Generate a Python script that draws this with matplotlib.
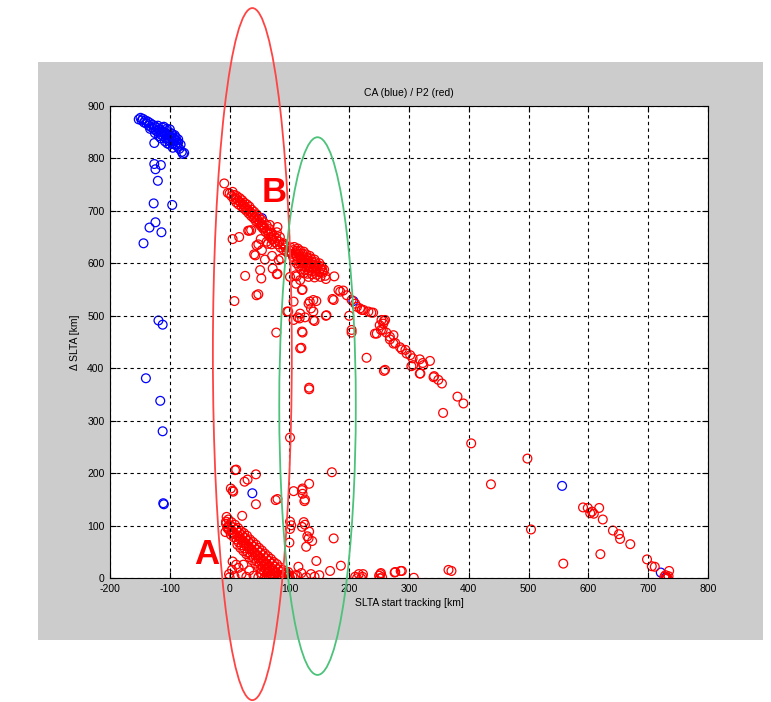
import numpy as np
import matplotlib.pyplot as plt
from matplotlib.patches import Ellipse, Rectangle

plt.rcParams['font.family'] = ['Liberation Sans', 'DejaVu Sans']
plt.rcParams['axes.unicode_minus'] = False

## CA (blue) points
ca_band = [
    (-152, 874), (-149, 877), (-147, 872), (-145, 875), (-143, 868), (-141, 872), (-139, 866),
    (-137, 870), (-135, 862), (-133, 867), (-131, 859), (-129, 864), (-127, 856), (-125, 861),
    (-123, 852), (-121, 858), (-119, 849), (-117, 855), (-115, 845), (-113, 852), (-111, 842),
    (-109, 849), (-107, 838), (-105, 846), (-103, 835), (-101, 843), (-99, 832), (-97, 840),
    (-95, 828), (-93, 837), (-91, 826), (-89, 834), (-87, 822), (-86, 830), (-84, 818),
    (-82, 826), (-80, 812), (-78, 808), (-76, 810), (-115, 838), (-108, 832), (-100, 826),
    (-125, 848), (-133, 856), (-95, 820), (-104, 828), (-118, 842), (-120, 862), (-112, 858),
    (-104, 852), (-96, 846), (-90, 840), (-86, 836), (-110, 860), (-105, 856), (-100, 855),
    (-98, 848), (-92, 844), (-88, 826), (-94, 832), (-102, 838), (-108, 845), (-114, 850),
]
ca_sparse = [
    (-126, 829), (-126, 789), (-124, 779), (-115, 787), (-120, 757), (-127, 714), (-96, 711),
    (-124, 678), (-134, 668), (-114, 659), (-144, 638), (-119, 491), (-112, 483), (-140, 381),
    (-116, 338), (-112, 280), (-110, 141), (-111, 143), (38, 162), (556, 176), (721, 11),
    (730, 2), (207, 528), (54, 686),
]

## P2 (red) points
p2_b_band = [
    (0, 733), (3, 728), (5, 736), (7, 722), (8, 730), (10, 724), (11, 716), (12, 728), (14, 720),
    (15, 712), (17, 724), (18, 716), (20, 708), (21, 720), (22, 712), (24, 704), (25, 715),
    (26, 707), (28, 700), (29, 712), (30, 703), (32, 695), (33, 708), (34, 698), (36, 690),
    (37, 702), (38, 694), (40, 686), (41, 698), (42, 688), (44, 680), (45, 693), (46, 684),
    (48, 676), (49, 688), (50, 678), (52, 671), (53, 683), (54, 674), (56, 666), (57, 678),
    (58, 668), (60, 660), (62, 672), (63, 662), (65, 655), (67, 665), (68, 650), (70, 658),
    (72, 645), (74, 652), (76, 640), (78, 648), (80, 636), (83, 641), (85, 630), (88, 636),
    (90, 626), (93, 630), (96, 622),
]
p2_b_cluster = [
    (102, 630), (108, 631), (114, 628), (100, 624), (106, 625), (112, 624), (118, 624), (124, 622),
    (104, 618), (110, 619), (116, 618), (122, 618), (128, 617), (134, 614), (106, 612), (112, 613),
    (118, 612), (124, 612), (130, 611), (136, 609), (142, 607), (108, 606), (114, 606), (120, 606),
    (126, 606), (132, 605), (138, 603), (144, 602), (150, 600), (112, 600), (118, 600), (124, 600),
    (130, 599), (136, 598), (142, 597), (148, 596), (154, 594), (116, 594), (122, 594), (128, 593),
    (134, 592), (140, 591), (146, 590), (152, 589), (158, 588), (120, 588), (126, 587), (132, 586),
    (138, 585), (144, 584), (150, 583), (156, 582), (124, 581), (130, 580), (138, 579), (146, 578),
    (112, 575), (132, 574), (142, 573), (152, 574), (160, 576),
]
p2_a_band = [
    (-6, 104), (-4, 96), (-7, 88), (-2, 112), (1, 101), (-1, 92), (2, 83), (3, 107), (6, 97),
    (4, 88), (7, 78), (9, 102), (11, 93), (8, 84), (12, 74), (13, 64), (14, 96), (16, 87),
    (17, 79), (15, 69), (18, 58), (19, 90), (21, 82), (22, 72), (20, 63), (23, 52), (24, 86),
    (26, 77), (27, 67), (25, 57), (28, 46), (29, 81), (31, 71), (32, 61), (30, 50), (33, 40),
    (34, 74), (36, 65), (37, 55), (35, 45), (38, 34), (39, 69), (41, 60), (42, 49), (40, 39),
    (43, 28), (44, 64), (46, 54), (47, 44), (45, 33), (48, 22), (49, 58), (51, 49), (52, 39),
    (50, 28), (53, 17), (54, 53), (56, 44), (57, 33), (55, 22), (58, 12), (59, 47), (61, 38),
    (62, 28), (60, 18), (63, 8), (64, 42), (66, 33), (67, 23), (65, 13), (68, 4), (69, 37),
    (71, 28), (72, 18), (70, 9), (74, 31), (76, 22), (77, 12), (75, 4), (79, 27), (81, 17),
    (82, 7), (84, 21), (86, 12), (87, 3), (89, 16), (91, 7), (94, 11), (96, 3), (99, 6), (101, 1),
    (3, 92), (13, 82), (23, 68), (33, 56), (43, 44), (53, 32), (63, 20), (73, 14), (18, 75),
    (28, 62), (38, 50), (48, 38), (58, 26), (68, 16), (78, 10),
    (0, 2), (8, 4), (15, 20), (20, 8), (28, 3), (33, 15), (40, 5), (48, 2), (52, 10), (58, 0),
    (63, 12), (70, 0), (78, 4), (85, 1), (92, 8), (98, 12), (105, 3), (110, 6),
]
p2_sparse = [
    (-9, 752), (-3, 734), (5, 646), (16, 650), (33, 662), (48, 636), (41, 617), (70, 636),
    (80, 669), (84, 650), (71, 614), (82, 606), (51, 587), (53, 571), (72, 590), (80, 580),
    (26, 576), (48, 541), (45, 539), (8, 528), (78, 468), (55, 669), (68, 657), (90, 638),
    (93, 634), (43, 615), (54, 625), (86, 609), (79, 579), (67, 673), (79, 659), (62, 641),
    (45, 634), (52, 646), (64, 637), (71, 646), (59, 607), (36, 663), (31, 662),
    (110, 577), (118, 568), (122, 550), (107, 527), (98, 508), (117, 495), (126, 497),
    (142, 490), (136, 514), (145, 528), (132, 523), (140, 508), (161, 500), (172, 532),
    (175, 575), (161, 570), (155, 587), (185, 546), (190, 548), (196, 539), (200, 500),
    (204, 468), (213, 517), (221, 511), (232, 508), (237, 506), (122, 468), (120, 439),
    (118, 438), (133, 363), (229, 420), (258, 395), (254, 492), (258, 490), (246, 466),
    (268, 460), (274, 447), (285, 440), (294, 435), (302, 425), (307, 406), (318, 417),
    (323, 410), (335, 414), (318, 390), (342, 385), (349, 378), (355, 371),
    (174, 530), (182, 549), (204, 530), (210, 523), (218, 514), (224, 511), (240, 506),
    (162, 501), (118, 504), (134, 527), (140, 530), (96, 508), (140, 492), (121, 470),
    (204, 473), (121, 549), (111, 561), (101, 574), (251, 482), (256, 473), (243, 466),
    (262, 468), (268, 455), (277, 448), (107, 492), (114, 497),
    (257, 485), (253, 473), (260, 492), (274, 463), (288, 436), (296, 428), (306, 419),
    (324, 406), (304, 404), (319, 390), (260, 397), (341, 383), (381, 346), (391, 333), (357, 315),
    (133, 360), (101, 268), (404, 257), (498, 228), (437, 179), (504, 93), (558, 28), (371, 14),
    (308, 1), (288, 14), (276, 11), (252, 8), (251, 0), (223, 8), (213, 0), (222, 3), (186, 24),
    (168, 14), (145, 33), (174, 76), (171, 202), (133, 180), (122, 171), (107, 166), (126, 150),
    (125, 147), (80, 151), (101, 108), (124, 107), (126, 102), (133, 89), (138, 71), (132, 76),
    (128, 60), (100, 68), (101, 94), (44, 198), (25, 184), (30, 188), (9, 206), (11, 207),
    (2, 171), (5, 167), (44, 141), (21, 119), (5, 32), (-1, 8), (11, 26), (121, 168), (122, 161),
    (103, 101), (121, 98), (130, 80), (115, 22), (6, 165), (77, 149), (-5, 117), (-6, 108),
    (-3, 98), (23, 26), (4, 16),
    (113, 5), (120, 10), (128, 2), (136, 8), (142, 3), (150, 6), (210, 3), (216, 8), (220, 0),
    (250, 5), (255, 2), (253, 10), (277, 12), (286, 14), (366, 16),
    (591, 135), (599, 134), (606, 127), (609, 123), (603, 124), (618, 134), (624, 112),
    (641, 91), (651, 84), (653, 75), (670, 65), (620, 46), (698, 36), (706, 23), (711, 22),
    (735, 14), (729, 6), (730, 0), (727, 3), (734, 4), (732, 1),
]

x_ticks = list(range(-200, 801, 100))
y_ticks = list(range(0, 901, 100))

blue = np.array(ca_band + ca_sparse)
red = np.array(p2_b_band + p2_b_cluster + p2_a_band + p2_sparse)

fig = plt.figure(figsize=(7.71, 7.02), dpi=100, facecolor='white')
# grey figure panel like the matlab window
fig.patches.append(Rectangle((0.0493, 0.0883), 0.9403, 0.8234, transform=fig.transFigure,
                             facecolor='#cccccc', edgecolor='none', zorder=-10))

ax = fig.add_axes([0.1427, 0.1762, 0.7756, 0.6732])
ax.scatter(blue[:, 0], blue[:, 1], s=40, facecolors='none', edgecolors='#0000ff', linewidths=0.9)
ax.scatter(red[:, 0], red[:, 1], s=40, facecolors='none', edgecolors='#ff0000', linewidths=0.9)

ax.set_xlim(-200, 800)
ax.set_ylim(0, 900)
ax.set_xticks(x_ticks)
ax.set_yticks(y_ticks)
ax.tick_params(direction='in', top=True, right=True, length=4, labelsize=7.5, pad=4)
ax.grid(True, color='black', linestyle=(0, (3, 3)), linewidth=0.8)
for sp in ax.spines.values():
    sp.set_linewidth(0.8)

ax.set_title('CA (blue) / P2 (red)', fontsize=7.5, pad=7)
ax.set_xlabel('SLTA start tracking [km]', fontsize=7.5, labelpad=3)
ax.set_ylabel('Δ SLTA [km]', fontsize=7.5, labelpad=5)

## annotations
ax.add_patch(Ellipse((38, 427), 132, 1318, facecolor='none', edgecolor='#ff4444',
                     linewidth=1.3, clip_on=False, zorder=5))
ax.add_patch(Ellipse((147, 328), 128, 1024, facecolor='none', edgecolor='#4cc27a',
                     linewidth=1.3, clip_on=False, zorder=5))
ax.text(-39, 46, 'A', color='#ff0000', fontsize=25, fontweight='bold', ha='center', va='center')
ax.text(74, 734, 'B', color='#ff0000', fontsize=25, fontweight='bold', ha='center', va='center')

plt.savefig('out.png', dpi=100, facecolor='white')
